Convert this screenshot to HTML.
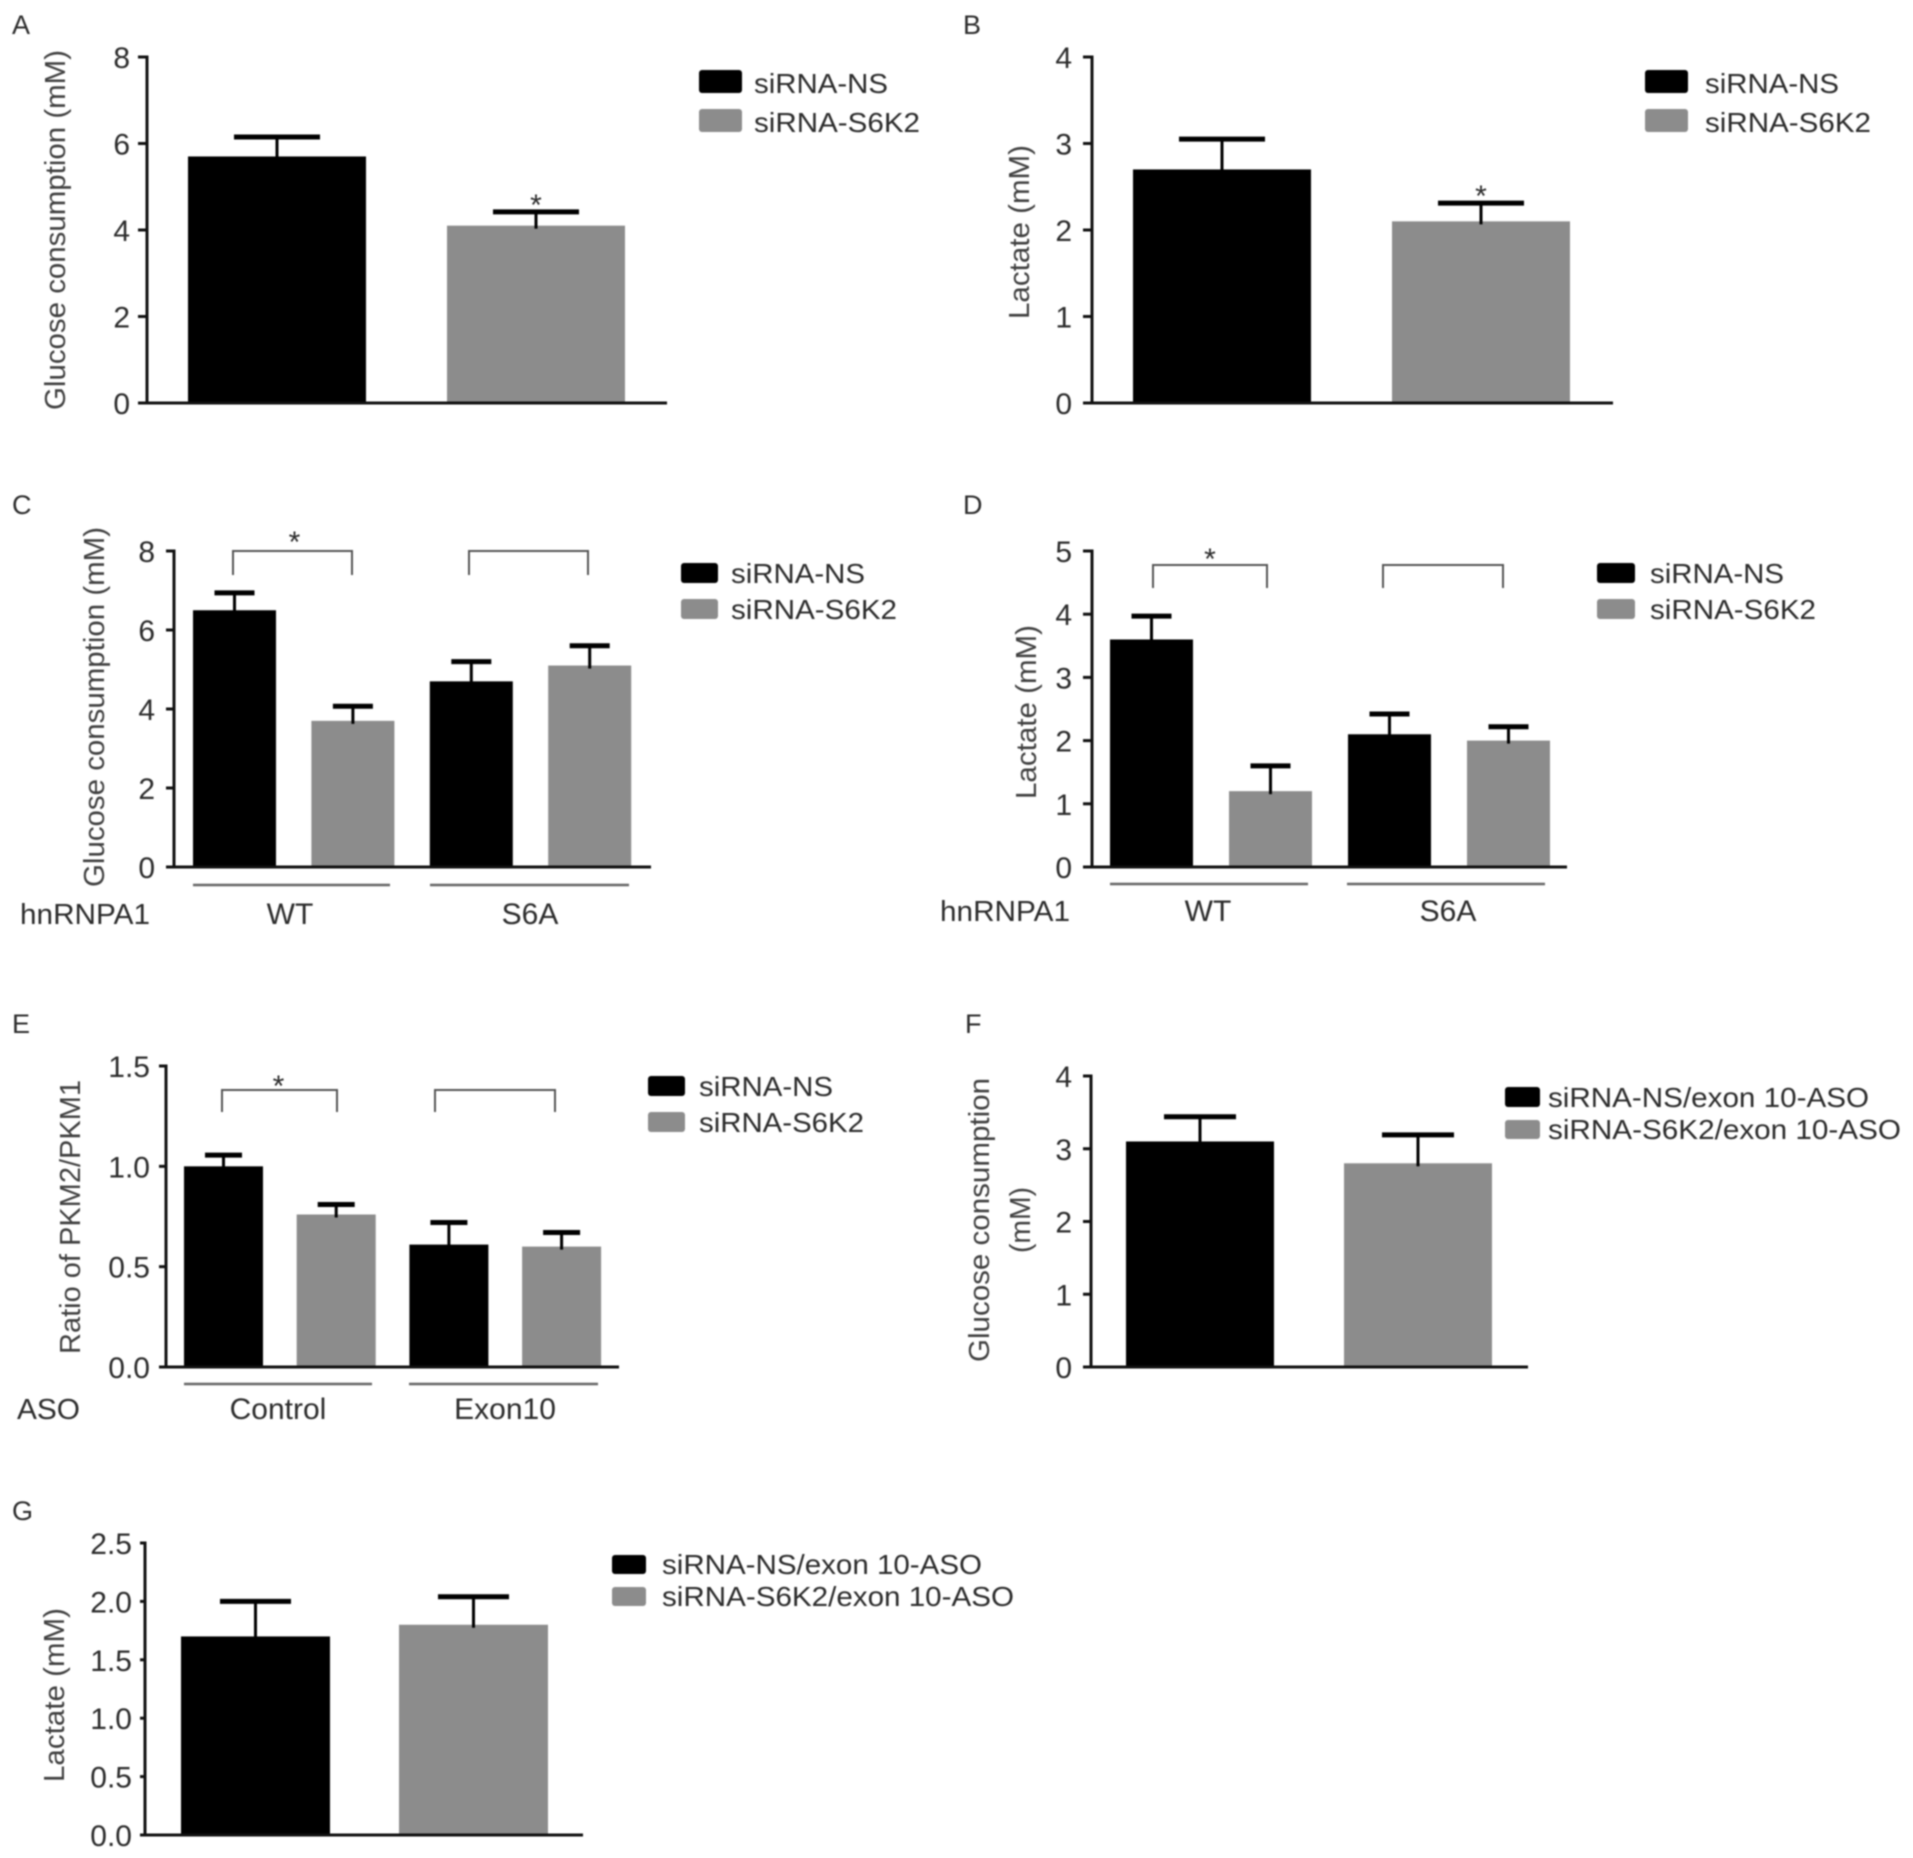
<!DOCTYPE html>
<html lang="en">
<head>
<meta charset="utf-8">
<title>Glucose consumption and lactate bar charts</title>
<style>
html,body{margin:0;padding:0;background:#fff;}
#figure{display:block;width:1913px;height:1858px;filter:blur(0.8px);}
text{font-family:"Liberation Sans",sans-serif;}
</style>
</head>
<body>
<svg id="figure" xmlns="http://www.w3.org/2000/svg" width="1913" height="1858" viewBox="0 0 1913 1858"></svg>
<script>
// Data
const legendPlain = ["siRNA-NS", "siRNA-S6K2"];
const legendAso = ["siRNA-NS/exon 10-ASO", "siRNA-S6K2/exon 10-ASO"];

const ticksA = ["0", "2", "4", "6", "8"];
const valuesA = [5.7, 4.1];
const errorsA = [0.45, 0.32];

const ticksB = ["0", "1", "2", "3", "4"];
const valuesB = [2.7, 2.1];
const errorsB = [0.35, 0.21];

const ticksC = ["0", "2", "4", "6", "8"];
const valuesC = [6.5, 3.7, 4.7, 5.1];
const errorsC = [0.44, 0.37, 0.5, 0.5];
const groupsC = ["WT", "S6A"];

const ticksD = ["0", "1", "2", "3", "4", "5"];
const valuesD = [3.6, 1.2, 2.1, 2.0];
const errorsD = [0.37, 0.4, 0.32, 0.22];
const groupsD = ["WT", "S6A"];

const ticksE = ["0.0", "0.5", "1.0", "1.5"];
const valuesE = [1.0, 0.76, 0.61, 0.60];
const errorsE = [0.056, 0.05, 0.11, 0.07];
const groupsE = ["Control", "Exon10"];

const ticksF = ["0", "1", "2", "3", "4"];
const valuesF = [3.1, 2.8];
const errorsF = [0.34, 0.39];

const ticksG = ["0.0", "0.5", "1.0", "1.5", "2.0", "2.5"];
const valuesG = [1.7, 1.8];
const errorsG = [0.3, 0.24];

const NS = "http://www.w3.org/2000/svg";
const svg = document.getElementById("figure");
const BLACK = "#000000";
const GREY = "#8c8c8c";
const TEXT = "#2c2c2c";

function mk(tag, attrs, parent) {
  const el = document.createElementNS(NS, tag);
  for (const k in attrs) el.setAttribute(k, attrs[k]);
  parent.appendChild(el);
  return el;
}
function label(str, attrs, parent) {
  const el = mk("text", attrs, parent);
  el.textContent = str;
  return el;
}

function drawPanel(p) {
  const g = mk("g", {}, svg);
  
  

  const letter = label(p.id, {x: p.letterX, y: p.letterY + 1, "font-size": 27, fill: TEXT}, g);
  
  

  const yMax = parseFloat(p.ticks[p.ticks.length - 1]);
  const yScale = v => p.y0 - (v / yMax) * (p.y0 - p.yTop);

  // bars
  p.values.forEach((v, i) => {
    const left = p.barLeft + i * p.barStep;
    const top = yScale(v);
    const cx = left + p.barWidth / 2;
    const errY = yScale(v + p.errors[i]);
    const bar = mk("rect", {x: left, y: top, width: p.barWidth, height: p.y0 - top, fill: i % 2 ? GREY : BLACK}, g);
    
    
    const stem = mk("line", {x1: cx, x2: cx, y1: errY, y2: top + 3, stroke: BLACK, "stroke-width": 3}, g);
    
    
    const cap = mk("line", {x1: cx - p.capWidth / 2, x2: cx + p.capWidth / 2, y1: errY, y2: errY, stroke: BLACK, "stroke-width": 5}, g);
    
    
    if (p.starOnBar === i) {
      const star = label("*", {x: cx, y: errY + 3, "font-size": 30, "text-anchor": "middle", fill: TEXT}, g);
      
      
    }
  });

  // axes
  const yAxis = mk("line", {x1: p.axisX, x2: p.axisX, y1: p.yTop - 1.5, y2: p.y0 + 1.5, stroke: "#111", "stroke-width": 3}, g);
  
  
  const xAxis = mk("line", {x1: p.axisStart, x2: p.axisEnd, y1: p.y0, y2: p.y0, stroke: "#111", "stroke-width": 3}, g);
  
  

  p.ticks.forEach(t => {
    const y = yScale(parseFloat(t));
    const tick = mk("line", {x1: p.axisStart, x2: p.axisX, y1: y, y2: y, stroke: "#111", "stroke-width": 3}, g);
    
    
    const tl = label(t, {x: p.tickRight, y: y + 11, "font-size": 30, "text-anchor": "end", fill: TEXT}, g);
    
    
  });

  // y title (one or more rotated lines)
  p.titles.forEach(tt => {
    const ty = label(tt.text, {
      transform: "translate(" + tt.x + "," + tt.y + ") rotate(-90)",
      "font-size": 29, "text-anchor": "middle", fill: "#404040",
      textLength: tt.len, lengthAdjust: "spacingAndGlyphs"
    }, g);
    
    
  });

  // legend
  p.legend.forEach((name, i) => {
    const row = p.legendRows[i];
    const sw = mk("rect", {x: p.swatchX, y: row.top, width: p.swatchW, height: row.h, rx: 3, fill: i ? GREY : BLACK}, g);
    
    
    const lt = label(name, {
      x: p.legendTextX, y: row.top + row.h, "font-size": 28, fill: TEXT,
      textLength: row.len, lengthAdjust: "spacingAndGlyphs"
    }, g);
    
    
  });

  // significance brackets
  (p.brackets || []).forEach(b => {
    const br = mk("path", {
      d: "M" + b.x1 + " " + b.bottom + "V" + b.top + "H" + b.x2 + "V" + b.bottom,
      fill: "none", stroke: "#555", "stroke-width": 2
    }, g);
    
    
    if (b.star) {
      const s = label("*", {x: (b.x1 + b.x2) / 2 + b.starDx, y: b.top + b.starDy, "font-size": 30, "text-anchor": "middle", fill: TEXT}, g);
      
      
    }
  });

  // group rules + labels
  (p.groups || []).forEach((name, i) => {
    const gr = p.groupRules[i];
    const rule = mk("line", {x1: gr.x1, x2: gr.x2, y1: p.groupRuleY, y2: p.groupRuleY, stroke: "#666", "stroke-width": 2.5}, g);
    
    
    const gl = label(name, {x: gr.cx, y: p.groupLabelY, "font-size": 30, "text-anchor": "middle", fill: TEXT}, g);
    
    
  });
  if (p.rowLabel) {
    const rl = label(p.rowLabel, {x: p.rowLabelX, y: p.groupLabelY, "font-size": 29, fill: TEXT, textLength: p.rowLabelLen, lengthAdjust: "spacingAndGlyphs"}, g);
    
    
  }
}

drawPanel({id:"A", letterX:12, letterY:33, ticks:ticksA, values:valuesA, errors:errorsA,
  axisX:147, axisStart:138, axisEnd:667, yTop:57, y0:403, tickRight:130,
  barLeft:188, barWidth:178, barStep:259, capWidth:86, starOnBar:1,
  titles:[{text:"Glucose consumption (mM)", x:65, y:230, len:360}],
  legend:legendPlain, swatchX:699, swatchW:43, legendTextX:754,
  legendRows:[{top:70,h:23,len:134},{top:109,h:23,len:166}]});

drawPanel({id:"B", letterX:963, letterY:33, ticks:ticksB, values:valuesB, errors:errorsB,
  axisX:1092, axisStart:1083, axisEnd:1613, yTop:57, y0:403, tickRight:1072,
  barLeft:1133, barWidth:178, barStep:259, capWidth:86, starOnBar:1,
  titles:[{text:"Lactate (mM)", x:1029, y:232, len:174}],
  legend:legendPlain, swatchX:1645, swatchW:43, legendTextX:1705,
  legendRows:[{top:70,h:23,len:134},{top:109,h:23,len:166}]});

drawPanel({id:"C", letterX:12, letterY:513, ticks:ticksC, values:valuesC, errors:errorsC,
  axisX:174, axisStart:166, axisEnd:651, yTop:551, y0:867, tickRight:155,
  barLeft:193, barWidth:83, barStep:118.4, capWidth:40,
  titles:[{text:"Glucose consumption (mM)", x:104, y:707, len:360}],
  legend:legendPlain, swatchX:681, swatchW:37, legendTextX:731,
  legendRows:[{top:563,h:20,len:134},{top:599,h:20,len:166}],
  brackets:[{x1:233,x2:352,top:551,bottom:575,star:true,starDx:2,starDy:1},{x1:469,x2:588,top:551,bottom:575,star:false}],
  groups:groupsC, groupRules:[{x1:193,x2:390,cx:290},{x1:430,x2:629,cx:530}],
  groupRuleY:885, groupLabelY:924, rowLabel:"hnRNPA1", rowLabelX:20, rowLabelLen:130});

drawPanel({id:"D", letterX:963, letterY:513, ticks:ticksD, values:valuesD, errors:errorsD,
  axisX:1092, axisStart:1083, axisEnd:1567, yTop:551, y0:867, tickRight:1072,
  barLeft:1110, barWidth:83, barStep:119, capWidth:40,
  titles:[{text:"Lactate (mM)", x:1036, y:712, len:174}],
  legend:legendPlain, swatchX:1597, swatchW:38, legendTextX:1650,
  legendRows:[{top:563,h:20,len:134},{top:599,h:20,len:166}],
  brackets:[{x1:1153,x2:1267,top:565,bottom:588,star:true,starDx:0,starDy:4},{x1:1383,x2:1503,top:565,bottom:588,star:false}],
  groups:groupsD, groupRules:[{x1:1110,x2:1308,cx:1208},{x1:1347,x2:1545,cx:1448}],
  groupRuleY:884, groupLabelY:921, rowLabel:"hnRNPA1", rowLabelX:940, rowLabelLen:130});

drawPanel({id:"E", letterX:12, letterY:1032, ticks:ticksE, values:valuesE, errors:errorsE,
  axisX:166, axisStart:159, axisEnd:619, yTop:1066, y0:1367, tickRight:150,
  barLeft:184, barWidth:79, barStep:112.7, capWidth:37,
  titles:[{text:"Ratio of PKM2/PKM1", x:80, y:1217, len:274}],
  legend:legendPlain, swatchX:648, swatchW:37, legendTextX:699,
  legendRows:[{top:1076,h:20,len:134},{top:1112,h:20,len:165}],
  brackets:[{x1:222,x2:337,top:1090,bottom:1112,star:true,starDx:-1,starDy:6},{x1:435,x2:555,top:1090,bottom:1112,star:false}],
  groups:groupsE, groupRules:[{x1:184,x2:372,cx:278},{x1:409,x2:598,cx:505}],
  groupRuleY:1384, groupLabelY:1419, rowLabel:"ASO", rowLabelX:17, rowLabelLen:63});

drawPanel({id:"F", letterX:965, letterY:1032, ticks:ticksF, values:valuesF, errors:errorsF,
  axisX:1091, axisStart:1083, axisEnd:1528, yTop:1076, y0:1367, tickRight:1072,
  barLeft:1126, barWidth:148, barStep:218, capWidth:72,
  titles:[{text:"Glucose consumption", x:989, y:1220, len:284},{text:"(mM)", x:1030, y:1220, len:66}],
  legend:legendAso, swatchX:1505, swatchW:35, legendTextX:1548,
  legendRows:[{top:1087,h:20,len:321},{top:1120,h:19,len:353}]});

drawPanel({id:"G", letterX:12, letterY:1519, ticks:ticksG, values:valuesG, errors:errorsG,
  axisX:145, axisStart:140, axisEnd:583, yTop:1543, y0:1835, tickRight:132,
  barLeft:181, barWidth:149, barStep:218, capWidth:71,
  titles:[{text:"Lactate (mM)", x:64, y:1695, len:174}],
  legend:legendAso, swatchX:612, swatchW:34, legendTextX:662,
  legendRows:[{top:1555,h:19,len:320},{top:1587,h:19,len:352}]});
</script>
</body>
</html>
